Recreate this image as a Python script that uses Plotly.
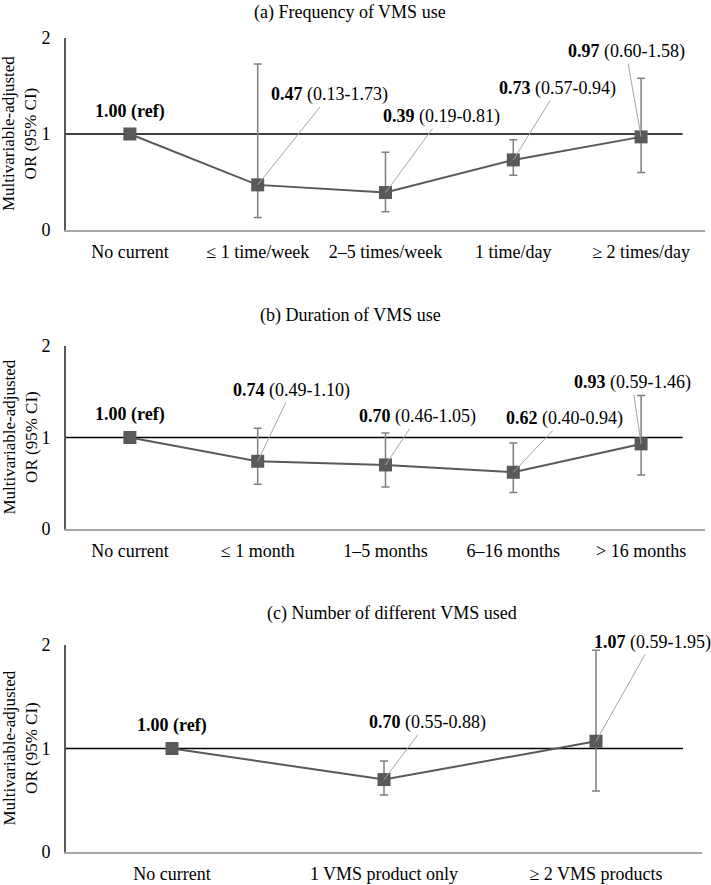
import plotly.graph_objects as go

# panel (a) frequency of VMS use
freq_cats = ['No current', '≤ 1 time/week', '2–5 times/week', '1 time/day', '≥ 2 times/day']
freq_or = [1.00, 0.47, 0.39, 0.73, 0.97]
freq_lo = [None, 0.13, 0.19, 0.57, 0.60]
freq_hi = [None, 1.73, 0.81, 0.94, 1.58]

# panel (b) duration of VMS use
dur_cats = ['No current', '≤ 1 month', '1–5 months', '6–16 months', '> 16 months']
dur_or = [1.00, 0.74, 0.70, 0.62, 0.93]
dur_lo = [None, 0.49, 0.46, 0.40, 0.59]
dur_hi = [None, 1.10, 1.05, 0.94, 1.46]

# panel (c) number of different VMS used
num_cats = ['No current', '1 VMS product only', '≥ 2 VMS products']
num_or = [1.00, 0.70, 1.07]
num_lo = [None, 0.55, 0.59]
num_hi = [None, 0.88, 1.95]

titles = ['(a) Frequency of VMS use', '(b) Duration of VMS use', '(c) Number of different VMS used']

# label offsets in px (ax, ay) for the annotated points
offsets_a = [(72, -90), (56, -76), (44, -71), (-15, -85)]
offsets_b = [(34, -71), (32, -48), (51, -54), (-9, -61)]
offsets_c = [(43, -57), (56, -99)]

FONT = 'Liberation Serif'
DARK = '#595959'
W, H = 711, 885

panels = [
    dict(cats=freq_cats, orv=freq_or, lo=freq_lo, hi=freq_hi, offs=offsets_a,
         ydom=[1 - 230/H, 1 - 38/H], xdom=[66/W, 705/W], title_y=1, title_x=350/W, refend=0.965),
    dict(cats=dur_cats, orv=dur_or, lo=dur_lo, hi=dur_hi, offs=offsets_b,
         ydom=[1 - 529/H, 1 - 346/H], xdom=[66/W, 705/W], title_y=1 - 303/H, title_x=350/W, refend=0.965),
    dict(cats=num_cats, orv=num_or, lo=num_lo, hi=num_hi, offs=offsets_c,
         ydom=[1 - 852/H, 1 - 645/H], xdom=[66/W, 702/W], title_y=1 - 601/H, title_x=392/W, refend=0.970),
]

fig = go.Figure()
annotations = []
shapes = []
layout = {}

for i, p in enumerate(panels):
    n = '' if i == 0 else str(i + 1)
    xa = 'x' + n
    ya = 'y' + n
    plus = [None if h is None else h - o for h, o in zip(p['hi'], p['orv'])]
    minus = [None if l is None else o - l for l, o in zip(p['lo'], p['orv'])]
    fig.add_trace(go.Scatter(
        x=p['cats'], y=p['orv'], xaxis=xa, yaxis=ya,
        mode='lines+markers',
        line=dict(color=DARK, width=2),
        marker=dict(symbol='square', size=13, color=DARK),
        error_y=dict(type='data', symmetric=False, array=plus, arrayminus=minus,
                     color='#7f7f7f', thickness=1.5, width=4),
        showlegend=False, hoverinfo='skip'))

    layout['xaxis' + n] = dict(
        domain=p['xdom'], anchor=ya, type='category', categoryorder='array',
        categoryarray=p['cats'], range=[-0.5, len(p['cats']) - 0.5],
        showline=True, linecolor='#a6a6a6', linewidth=1.5, ticks='',
        showgrid=False, zeroline=False, ticklabelstandoff=5, automargin=False,
        tickfont=dict(family=FONT, size=18, color='black'))
    layout['yaxis' + n] = dict(
        domain=p['ydom'], anchor=xa, range=[0, 2], tickvals=[0, 1, 2],
        showline=True, linecolor=DARK, linewidth=2, ticks='',
        showgrid=False, zeroline=False, ticklabelstandoff=10, automargin=False,
        tickfont=dict(family=FONT, size=18, color='black'))

    # reference line at OR = 1
    shapes.append(dict(type='line', xref=xa + ' domain', yref=ya, x0=0, x1=p['refend'],
                       y0=1, y1=1, line=dict(color='black', width=1.5), layer='below'))

    # panel title
    annotations.append(dict(text=titles[i], xref='paper', yref='paper', x=p['title_x'], y=p['title_y'],
                            xanchor='center', yanchor='top', showarrow=False,
                            font=dict(family=FONT, size=18, color='black')))
    # y axis title
    annotations.append(dict(text='Multivariable-adjusted<br>OR (95% CI)', xref='paper', yref='paper',
                            x=20/W, y=(p['ydom'][0] + p['ydom'][1]) / 2, textangle=-90,
                            xanchor='center', yanchor='middle', showarrow=False,
                            font=dict(family=FONT, size=17, color='black')))
    # reference label
    annotations.append(dict(text='<b>1.00 (ref)</b>', xref=xa, yref=ya, x=p['cats'][0], y=p['orv'][0],
                            showarrow=False, yshift=23, font=dict(family=FONT, size=18, color='black')))
    # estimate labels with leader lines
    for j in range(1, len(p['cats'])):
        ax, ay = p['offs'][j - 1]
        txt = '<b>%.2f</b> (%.2f-%.2f)' % (p['orv'][j], p['lo'][j], p['hi'][j])
        annotations.append(dict(text=txt, xref=xa, yref=ya, x=p['cats'][j], y=p['orv'][j],
                                showarrow=True, arrowhead=0, arrowwidth=1, arrowcolor='#a6a6a6',
                                ax=ax, ay=ay, standoff=0,
                                font=dict(family=FONT, size=18, color='black')))

fig.update_layout(**layout)
fig.update_layout(
    width=W, height=H,
    margin=dict(l=0, r=0, t=0, b=0, autoexpand=False),
    paper_bgcolor='white', plot_bgcolor='white',
    annotations=annotations, shapes=shapes,
)

# drop the default page margin so the figure sits at the window's corner
fig.write_html("out.html", config={'displayModeBar': False},
               post_script="document.body.style.margin='0';document.documentElement.style.overflow='hidden';")
